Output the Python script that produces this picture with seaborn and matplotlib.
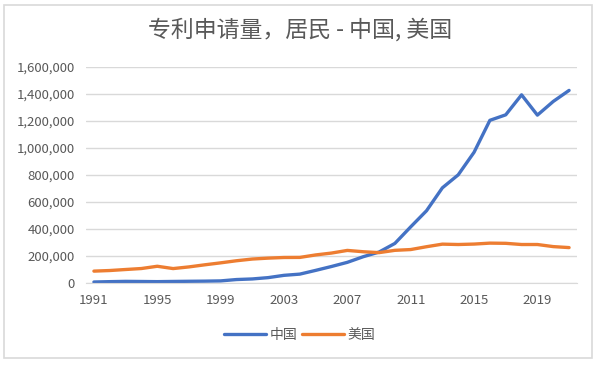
import pandas as pd
import matplotlib.pyplot as plt
import seaborn as sns
from matplotlib.patches import Rectangle

years = list(range(1991, 2022))
china = [7372, 10003, 12118, 11191, 10011, 11471, 12713, 13726, 15596, 25592,
         30038, 39806, 56769, 65786, 93485, 122318, 153060, 194579, 229096, 293066,
         415829, 535313, 704936, 801135, 968252, 1204981, 1245709, 1393815, 1243568,
         1344817, 1426644]
usa = [87955, 92425, 99955, 107233, 123962, 106892, 119214, 134733, 149251, 164795,
       177511, 184245, 188941, 189536, 207867, 221784, 241347, 231588, 224912, 241977,
       247750, 268782, 287831, 285096, 288335, 295327, 293904, 285095, 285113,
       269586, 262244]
series_names = ['中国', '美国']
tick_years = list(range(1991, 2020, 4))

df = pd.DataFrame({
    'year': years * 2,
    'value': china + usa,
    'country': [series_names[0]] * len(years) + [series_names[1]] * len(years),
})

sns.set_style("white")
plt.rcParams['font.family'] = ['Noto Sans CJK SC', 'DejaVu Sans']

grey = '#595959'
fig = plt.figure(figsize=(6, 3.65), dpi=100)
ax = fig.add_axes([86 / 600, 1 - 283 / 365, 491 / 600, 216 / 365])

sns.lineplot(data=df, x='year', y='value', hue='country',
             palette=['#4472C4', '#ED7D31'], linewidth=2.4, ax=ax, legend=False)

ax.set_xlim(1990.5, 2021.5)
ax.set_ylim(0, 1600000)
ax.set_yticks(range(0, 1600001, 200000))
ax.yaxis.set_major_formatter(plt.FuncFormatter(lambda x, p: format(int(x), ',')))
ax.set_xticks(tick_years)
ax.set_xticks([y - 0.5 for y in range(1991, 2022, 4)], minor=True)
ax.tick_params(axis='x', which='major', length=0, pad=8, labelsize=9.5, colors=grey)
ax.tick_params(axis='x', which='minor', length=5, color='#d9d9d9', width=1)
ax.tick_params(axis='y', length=0, pad=8, labelsize=9.5, colors=grey)
ax.grid(axis='y', color='#d9d9d9', linewidth=1)
ax.set_axisbelow(True)
for s in ['left', 'right', 'top']:
    ax.spines[s].set_visible(False)
ax.spines['bottom'].set_color('#d9d9d9')
ax.set_xlabel('')
ax.set_ylabel('')

fig.text(0.5, 1 - 30 / 365, '专利申请量，居民 - 中国, 美国', ha='center', va='center',
         fontsize=16.5, color=grey, weight='medium')

handles = [plt.Line2D([], [], color=c, linewidth=2.4) for c in ['#4472C4', '#ED7D31']]
fig.legend(handles, series_names, loc='center', bbox_to_anchor=(0.5, 1 - 335 / 365),
           ncol=2, frameon=False, fontsize=10, labelcolor=grey, handlelength=3.0,
           handletextpad=0.3, columnspacing=0.3)

fig.patches.append(Rectangle((4 / 600, 1 - 358 / 365), 588 / 600, 353 / 365,
                             transform=fig.transFigure, fill=False,
                             edgecolor='#d9d9d9', linewidth=1.2))

plt.savefig('out.png', dpi=100)
